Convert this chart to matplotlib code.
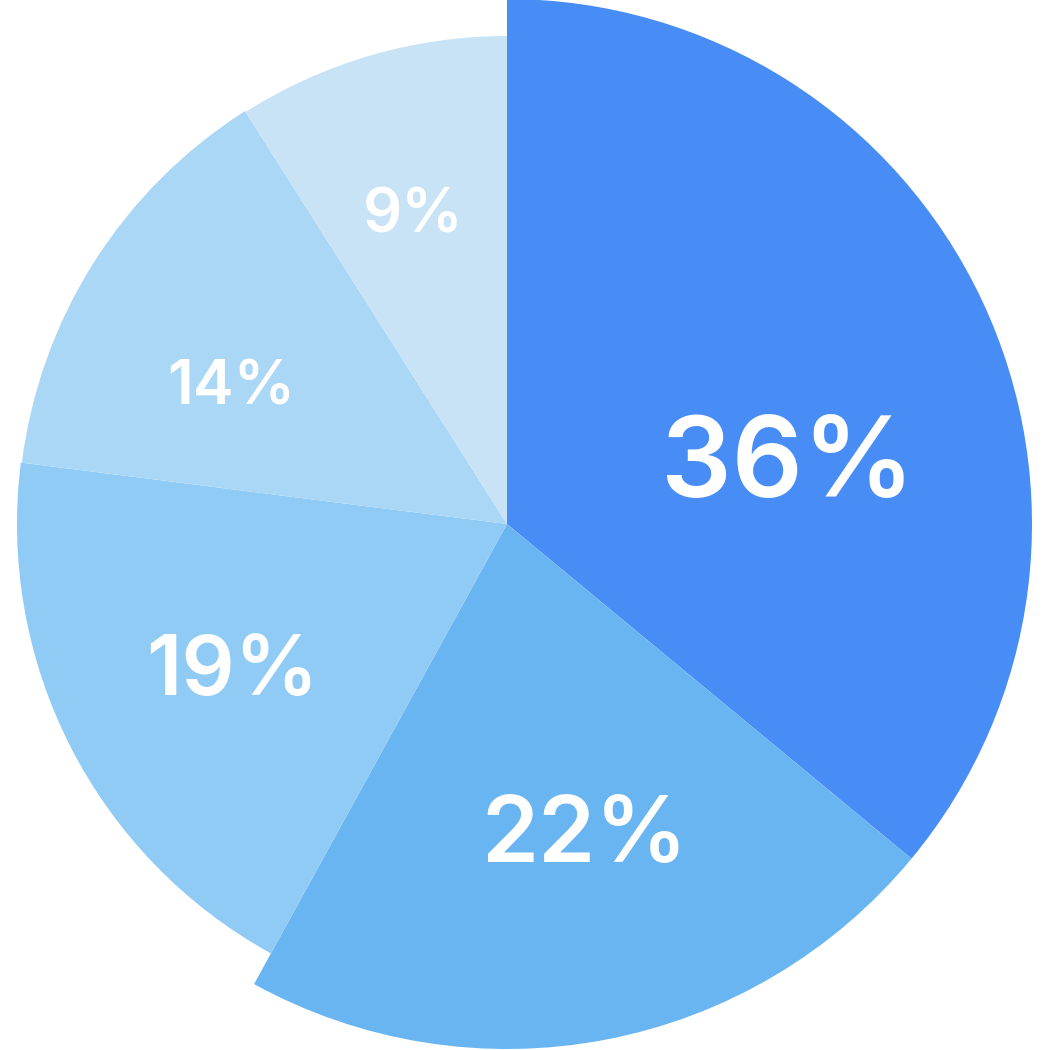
import numpy as np
import matplotlib.pyplot as plt
from matplotlib.patches import Wedge

shares = [36, 22, 19, 14, 9]
labels = ['36%', '22%', '19%', '14%', '9%']
radii = [525, 525, 490, 489, 488]
colors = ['#478DF5', '#69B5F2', '#8FCBF5', '#AAD7F5', '#C8E3F5']
font_sizes = [80, 66, 60, 44, 44]
# label baseline centre as (angle in degrees, distance from centre)
label_polar = [(5.5, 282), (-77.0, 347), (-148.1, 324), (156.6, 300), (107.9, 306)]

cx, cy = 507, 526

fig = plt.figure(figsize=(10.5, 10.5), dpi=100)
ax = fig.add_axes([0, 0, 1, 1])
ax.set_xlim(0, 1050)
ax.set_ylim(0, 1050)
ax.set_aspect('equal')
ax.axis('off')

start = 90.0
for share, r, c in zip(shares, radii, colors):
    sweep = share / sum(shares) * 360
    ax.add_patch(Wedge((cx, cy), r, start - sweep, start, facecolor=c, edgecolor='none'))
    start -= sweep

for lab, fs, (ang, dist) in zip(labels, font_sizes, label_polar):
    a = np.radians(ang)
    ax.text(cx + dist * np.cos(a), cy + dist * np.sin(a), lab, color='white',
            fontsize=fs, fontfamily='Inter', fontweight='semibold',
            ha='center', va='baseline')

fig.savefig('out.png', dpi=100)
